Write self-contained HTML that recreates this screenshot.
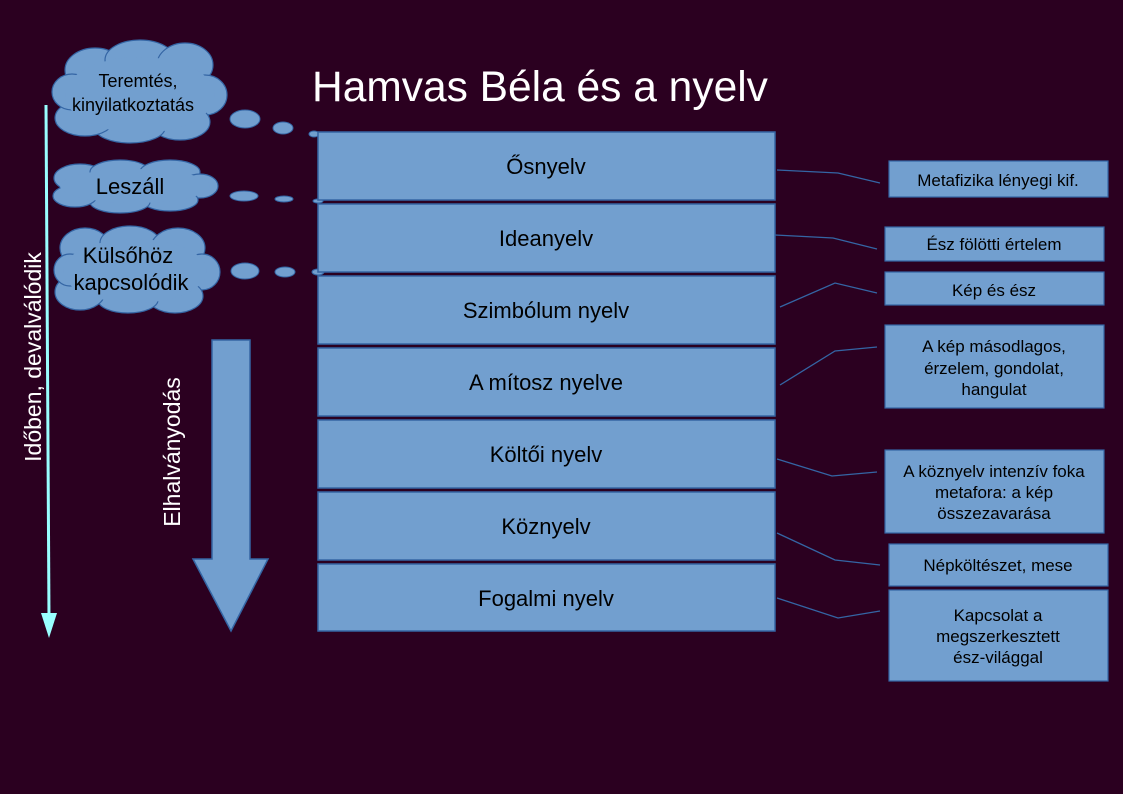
<!DOCTYPE html>
<html><head><meta charset="utf-8"><style>
html,body{margin:0;padding:0;background:#2b0020;}
svg{display:block;font-family:"Liberation Sans",sans-serif;}
</style></head><body>
<svg width="1123" height="794" viewBox="0 0 1123 794" xmlns="http://www.w3.org/2000/svg">
<rect width="1123" height="794" fill="#2b0020"/>
<line x1="46" y1="105" x2="49" y2="618" stroke="#99ffff" stroke-width="3"/>
<polygon points="41,613 57,613 49,638" fill="#99ffff"/>
<text transform="translate(41,357) rotate(-90)" text-anchor="middle" fill="#fff" font-size="23">Időben, devalválódik</text>
<polygon points="212,340 250,340 250,559 268,559 231,631 193,559 212,559" fill="#729fcf" stroke="#3465a4" stroke-width="1.5"/>
<text transform="translate(180,452) rotate(-90)" text-anchor="middle" fill="#fff" font-size="23">Elhalványodás</text>
<text x="312" y="101" fill="#fff" font-size="42.5">Hamvas Béla és a nyelv</text>
<g fill="#729fcf" stroke="#3465a4" stroke-width="1.2">
<ellipse cx="95" cy="70" rx="30" ry="22"/><ellipse cx="140" cy="60" rx="35" ry="20"/><ellipse cx="185" cy="65" rx="28" ry="22"/>
<ellipse cx="205" cy="95" rx="22" ry="20"/><ellipse cx="180" cy="122" rx="30" ry="18"/><ellipse cx="130" cy="128" rx="35" ry="15"/>
<ellipse cx="85" cy="118" rx="30" ry="18"/><ellipse cx="72" cy="92" rx="20" ry="18"/>
<ellipse cx="80" cy="178" rx="26" ry="14"/><ellipse cx="120" cy="172" rx="30" ry="12"/><ellipse cx="170" cy="172" rx="30" ry="12"/>
<ellipse cx="200" cy="186" rx="18" ry="12"/><ellipse cx="170" cy="200" rx="28" ry="11"/><ellipse cx="120" cy="202" rx="30" ry="11"/><ellipse cx="75" cy="196" rx="22" ry="11"/>
<ellipse cx="85" cy="248" rx="25" ry="20"/><ellipse cx="130" cy="243" rx="30" ry="17"/><ellipse cx="178" cy="248" rx="27" ry="20"/>
<ellipse cx="202" cy="272" rx="18" ry="18"/><ellipse cx="175" cy="296" rx="28" ry="17"/><ellipse cx="128" cy="300" rx="30" ry="13"/>
<ellipse cx="80" cy="292" rx="25" ry="18"/><ellipse cx="70" cy="270" rx="16" ry="16"/>
</g>
<g fill="#729fcf">
<ellipse cx="140" cy="95" rx="75" ry="38"/><ellipse cx="135" cy="186" rx="75" ry="17"/><ellipse cx="135" cy="271" rx="72" ry="32"/>
</g>
<g fill="#729fcf" stroke="#3465a4" stroke-width="1">
<ellipse cx="245" cy="119" rx="15" ry="9"/><ellipse cx="283" cy="128" rx="10" ry="6"/><ellipse cx="314" cy="134" rx="5" ry="3"/>
<ellipse cx="244" cy="196" rx="14" ry="5"/><ellipse cx="284" cy="199" rx="9" ry="3"/><ellipse cx="318" cy="201" rx="5" ry="2"/>
<ellipse cx="245" cy="271" rx="14" ry="8"/><ellipse cx="285" cy="272" rx="10" ry="5"/><ellipse cx="318" cy="272" rx="6" ry="3"/>
</g>
<g fill="#000" text-anchor="middle">
<text x="138" y="87" font-size="18">Teremtés,</text>
<text x="133" y="111" font-size="18">kinyilatkoztatás</text>
<text x="130" y="194" font-size="22">Leszáll</text>
<text x="128" y="263" font-size="22">Külsőhöz</text>
<text x="131" y="290" font-size="22">kapcsolódik</text>
</g>
<g fill="#729fcf" stroke="#3465a4" stroke-width="1.5">
<rect x="318" y="132" width="457" height="68"/><rect x="318" y="204" width="457" height="68"/>
<rect x="318" y="276" width="457" height="68"/><rect x="318" y="348" width="457" height="68"/>
<rect x="318" y="420" width="457" height="68"/><rect x="318" y="492" width="457" height="68"/>
<rect x="318" y="564" width="457" height="67"/>
</g>
<g fill="#000" font-size="22" text-anchor="middle">
<text x="546" y="174">Ősnyelv</text><text x="546" y="246">Ideanyelv</text>
<text x="546" y="318">Szimbólum nyelv</text><text x="546" y="390">A mítosz nyelve</text>
<text x="546" y="462">Költői nyelv</text><text x="546" y="534">Köznyelv</text>
<text x="546" y="606">Fogalmi nyelv</text>
</g>
<g fill="none" stroke="#3465a4" stroke-width="1.3">
<polyline points="777,170 838,173 880,183"/><polyline points="775,235 833,238 877,249"/>
<polyline points="780,307 835,283 877,293"/><polyline points="780,385 835,351 877,347"/>
<polyline points="777,459 832,476 877,472"/><polyline points="777,533 835,560 880,565"/>
<polyline points="777,598 838,618 880,611"/>
</g>
<g fill="#729fcf" stroke="#3465a4" stroke-width="1.2">
<rect x="889" y="161" width="219" height="36"/><rect x="885" y="227" width="219" height="34"/>
<rect x="885" y="272" width="219" height="33"/><rect x="885" y="325" width="219" height="83"/>
<rect x="885" y="450" width="219" height="83"/><rect x="889" y="544" width="219" height="42"/>
<rect x="889" y="590" width="219" height="91"/>
</g>
<g fill="#000" font-size="17" text-anchor="middle">
<text x="998" y="186">Metafizika lényegi kif.</text>
<text x="994" y="250">Ész fölötti értelem</text>
<text x="994" y="296">Kép és ész</text>
<text x="994" y="352">A kép másodlagos,</text><text x="994" y="374">érzelem, gondolat,</text><text x="994" y="395">hangulat</text>
<text x="994" y="477">A köznyelv intenzív foka</text><text x="994" y="498">metafora: a kép</text><text x="994" y="519">összezavarása</text>
<text x="998" y="571">Népköltészet, mese</text>
<text x="998" y="621">Kapcsolat a</text><text x="998" y="642">megszerkesztett</text><text x="998" y="663">ész-világgal</text>
</g>
</svg>
</body></html>
